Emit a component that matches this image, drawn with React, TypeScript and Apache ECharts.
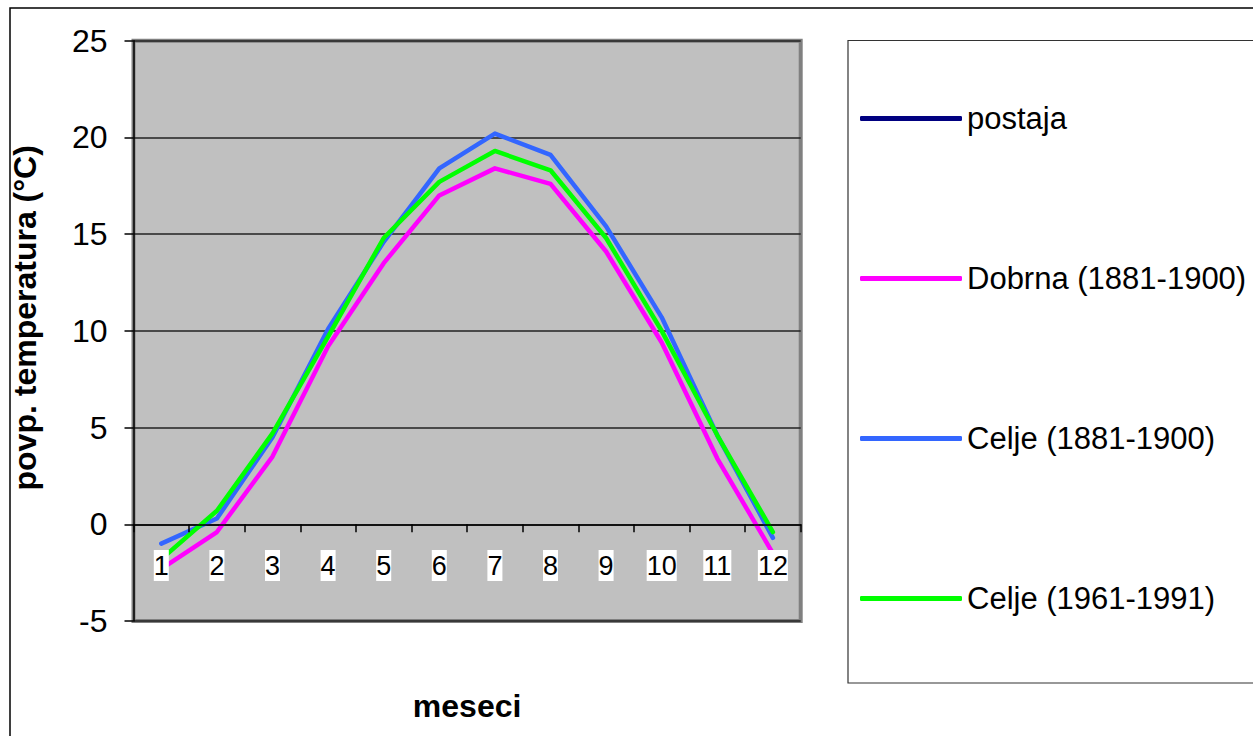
import React, { useEffect, useRef } from "react";
import * as echarts from "echarts";

const months = ["1", "2", "3", "4", "5", "6", "7", "8", "9", "10", "11", "12"];
const seriesNames = ["postaja", "Dobrna (1881-1900)", "Celje (1881-1900)", "Celje (1961-1991)"];
const postaja: (number | null)[] = [null, null, null, null, null, null, null, null, null, null, null, null];
const dobrna = [-2.3, -0.4, 3.5, 9.2, 13.5, 17.0, 18.4, 17.6, 14.1, 9.4, 3.4, -1.5];
const celje1881 = [-1.0, 0.3, 4.5, 10.1, 14.6, 18.4, 20.2, 19.1, 15.4, 10.7, 4.6, -0.7];
const celje1961 = [-1.8, 0.7, 4.7, 9.7, 14.8, 17.7, 19.3, 18.3, 14.8, 10.0, 4.6, -0.4];
const colors = ["#000080", "#FF00FF", "#3366FF", "#00FF00"];
const yTicks = { min: -5, max: 25, interval: 5 };

const FONT = "'Liberation Sans', Arial, Helvetica, sans-serif";

export default function App() {
  const ref = useRef<HTMLDivElement>(null);
  useEffect(() => {
    if (!ref.current) return;
    const chart = echarts.init(ref.current, undefined, { renderer: "svg" });
    const values = [postaja, dobrna, celje1881, celje1961];
    chart.setOption({
      animation: false,
      backgroundColor: "#ffffff",
      textStyle: { fontFamily: FONT },
      graphic: [
        {
          type: "rect",
          shape: { x: 10, y: 8, width: 1300, height: 800 },
          style: { fill: "none", stroke: "#000", lineWidth: 1.5 },
          silent: true,
          z: -10,
        },
        {
          type: "rect",
          shape: { x: 848, y: 40.5, width: 500, height: 642.5 },
          style: { fill: "#fff", stroke: "#333", lineWidth: 1.2 },
          silent: true,
          z: -5,
        },
      ],
      grid: {
        left: 133.5,
        right: 452.3,
        top: 40.7,
        bottom: 115,
        show: true,
        containLabel: false,
        outerBoundsMode: "none",
        backgroundColor: "#C0C0C0",
        borderColor: "#808080",
        borderWidth: 4,
      },
      legend: {
        orient: "vertical",
        left: 855,
        top: 98,
        itemWidth: 102,
        itemHeight: 5,
        itemGap: 129,
        itemTextGap: 7,
        icon: "roundRect",
        textStyle: { fontSize: 31, color: "#000", fontFamily: FONT },
        data: seriesNames,
      },
      xAxis: {
        type: "category",
        data: months,
        z: 3,
        name: "meseci",
        nameLocation: "middle",
        nameGap: 69,
        nameTextStyle: { fontSize: 32, fontWeight: "bold", color: "#000", fontFamily: FONT },
        axisLine: { onZero: true, lineStyle: { color: "#000", width: 1.5 } },
        axisTick: { show: true, length: 8, lineStyle: { color: "#000", width: 1.5 } },
        axisLabel: {
          fontSize: 27,
          color: "#000",
          margin: -71,
          backgroundColor: "#fff",
          padding: [2, 0, 2, 0],
          fontFamily: FONT,
        },
      },
      yAxis: {
        type: "value",
        min: yTicks.min,
        max: yTicks.max,
        interval: yTicks.interval,
        name: "povp. temperatura (°C)",
        nameLocation: "middle",
        nameGap: 93,
        nameTextStyle: {
          fontSize: 32,
          fontWeight: "bold",
          color: "#000",
          fontFamily: FONT,
          padding: [0, 0, 0, 26],
        },
        axisLine: { show: true, lineStyle: { color: "#000", width: 1.5 } },
        axisTick: { show: true, length: 9, lineStyle: { color: "#000", width: 1.5 } },
        axisLabel: { fontSize: 32, color: "#000", margin: 26, fontFamily: FONT },
        splitLine: { show: true, lineStyle: { color: "#222", width: 1.5 } },
      },
      series: seriesNames.map((name, i) => ({
        name,
        type: "line",
        data: values[i],
        symbol: "none",
        showSymbol: false,
        lineStyle: { color: colors[i], width: 4.5, cap: "round", join: "round" },
        itemStyle: { color: colors[i] },
        z: 2,
      })),
    });
    return () => chart.dispose();
  }, []);
  return (
    <div
      ref={ref}
      style={{ position: "fixed", left: 0, top: 0, width: 1253, height: 736 }}
    />
  );
}
